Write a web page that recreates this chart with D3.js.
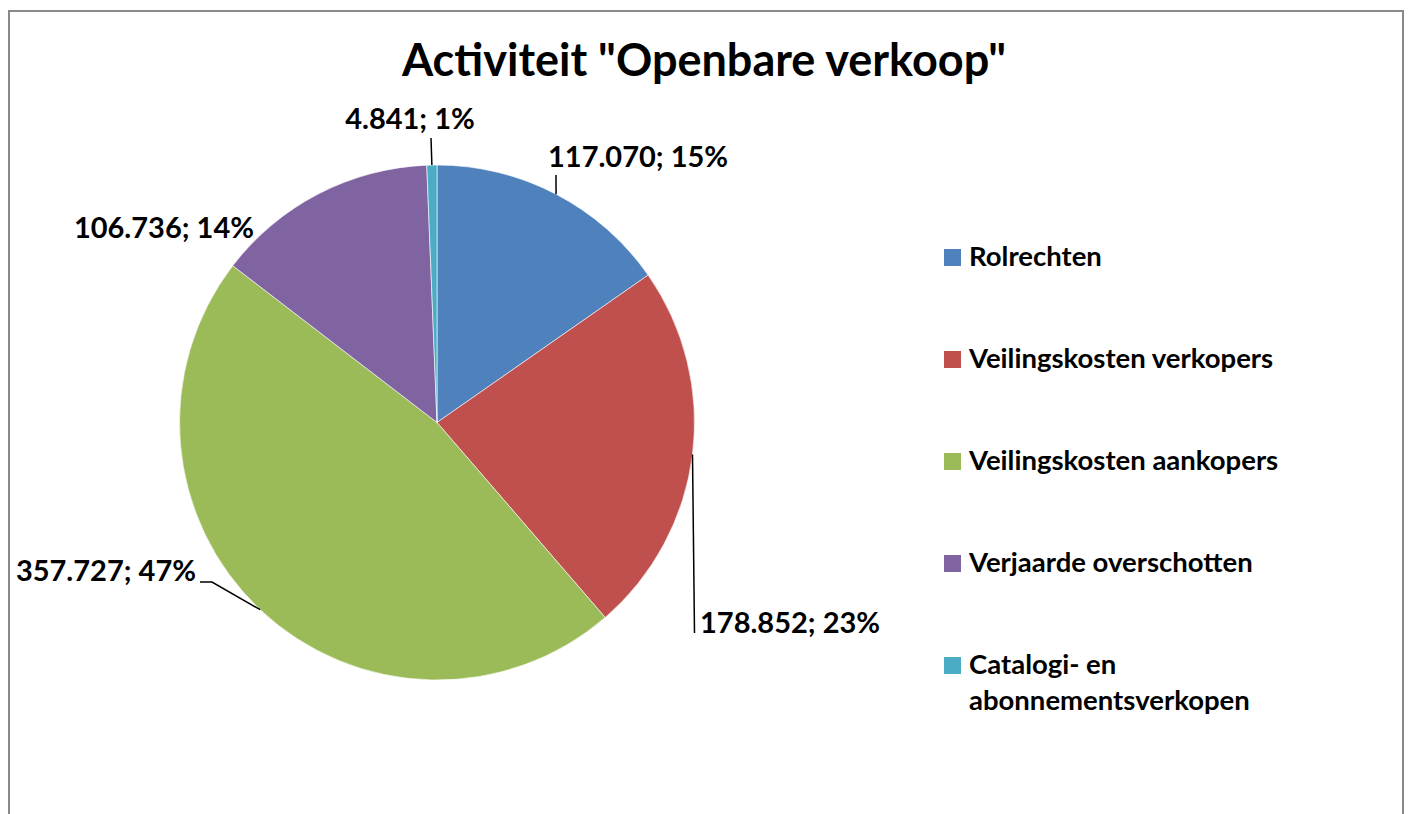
<!DOCTYPE html>
<html>
<head>
<meta charset="utf-8">
<script src="https://cdn.jsdelivr.net/npm/d3@7"></script>
<style>
  body { margin: 0; background: #fff; }
  text { font-family: Lato, "Open Sans", sans-serif; font-weight: bold; fill: #000; }
</style>
</head>
<body>
<div id="chart"></div>
<script>
// data
var categories = ["Rolrechten", "Veilingskosten verkopers", "Veilingskosten aankopers", "Verjaarde overschotten", "Catalogi- en abonnementsverkopen"];
var values = [117070, 178852, 357727, 106736, 4841];
var valueLabels = ["117.070", "178.852", "357.727", "106.736", "4.841"];
var colors = ["#4F81BD", "#C0504D", "#9BBB59", "#8064A2", "#4BACC6"];

// label placement, offsets from pie centre (Excel puts them by hand)
var labelPos = [
    { dx: 111, dy: -255.5, anchor: "start" },
    { dx: 263, dy: 210.5, anchor: "start" },
    { dx: -241, dy: 158.5, anchor: "end" },
    { dx: -183, dy: -184.5, anchor: "end" },
    { dx: -27, dy: -293.5, anchor: "middle" }
];
// leader line points after the slice edge point (null = no leader)
var leaders = [
    [[119, -247.5]],
    [[257.5, 210.5]],
    [[-225, 159.5], [-237, 159.5]],
    null,
    [[-6, -284.5]]
];

var width = 1408, height = 814;
var cx = 437, cy = 422.5, radius = 257.5;

var svg = d3.select("#chart").append("svg")
    .attr("width", width)
    .attr("height", height);

svg.append("rect")
    .attr("x", 9).attr("y", 11)
    .attr("width", 1394).attr("height", 900)
    .attr("fill", "#fff")
    .attr("stroke", "#898989")
    .attr("stroke-width", 2);

svg.append("text")
    .attr("x", 704)
    .attr("y", 76)
    .attr("text-anchor", "middle")
    .style("font-size", "45px")
    .text('Activiteit "Openbare verkoop"');

var total = d3.sum(values);
var pie = d3.pie().sort(null).value(function (d) { return d; });
var arcs = pie(values);
var arc = d3.arc().innerRadius(0).outerRadius(radius);
var edge = d3.arc().innerRadius(radius).outerRadius(radius);

var g = svg.append("g")
    .attr("transform", "translate(" + cx + "," + cy + ")");

g.selectAll("path.slice")
    .data(arcs)
    .enter()
    .append("path")
    .attr("class", "slice")
    .attr("d", arc)
    .attr("fill", function (d, i) { return colors[i]; })
    .attr("stroke", "#fff")
    .attr("stroke-width", 0.6);

// leader lines
var line = d3.line();
arcs.forEach(function (d, i) {
    if (!leaders[i]) return;
    var pts = [edge.centroid(d)].concat(leaders[i]);
    g.append("path")
        .attr("d", line(pts))
        .attr("fill", "none")
        .attr("stroke", "#000")
        .attr("stroke-width", 1.5);
});

// data labels
g.selectAll("text.lbl")
    .data(arcs)
    .enter()
    .append("text")
    .attr("class", "lbl")
    .attr("x", function (d, i) { return labelPos[i].dx; })
    .attr("y", function (d, i) { return labelPos[i].dy; })
    .attr("text-anchor", function (d, i) { return labelPos[i].anchor; })
    .style("font-size", "29px")
    .text(function (d, i) { return valueLabels[i] + "; " + Math.round(values[i] / total * 100) + "%"; });

// legend
var legend = svg.append("g").attr("transform", "translate(944,249)");
var legendLines = [["Rolrechten"], ["Veilingskosten verkopers"], ["Veilingskosten aankopers"], ["Verjaarde overschotten"], ["Catalogi- en", "abonnementsverkopen"]];
var item = legend.selectAll("g")
    .data(categories)
    .enter()
    .append("g")
    .attr("transform", function (d, i) { return "translate(0," + (i * 102) + ")"; });

item.append("rect")
    .attr("width", 17).attr("height", 17)
    .attr("fill", function (d, i) { return colors[i]; });

item.append("text")
    .attr("x", 25)
    .attr("y", 17)
    .style("font-size", "27.5px")
    .selectAll("tspan")
    .data(function (d, i) { return legendLines[i]; })
    .enter()
    .append("tspan")
    .attr("x", 25)
    .attr("dy", function (d, j) { return j === 0 ? 0 : 36; })
    .text(function (d) { return d; });
</script>
</body>
</html>
